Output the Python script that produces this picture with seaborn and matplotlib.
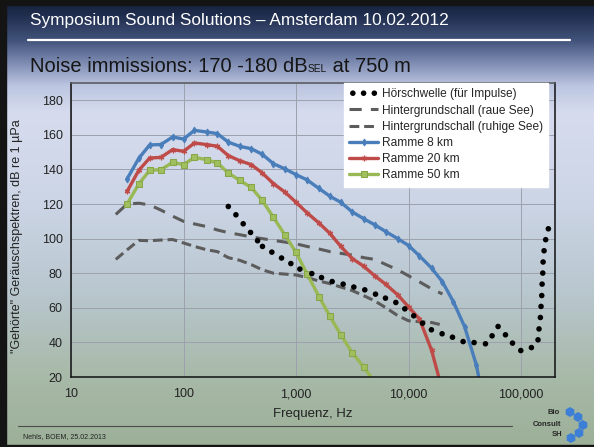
import matplotlib
matplotlib.use("Agg")
import matplotlib.pyplot as plt
import matplotlib.font_manager as fm
from matplotlib.colors import LinearSegmentedColormap
from matplotlib.patches import Rectangle, RegularPolygon
from matplotlib.ticker import FixedLocator, FuncFormatter, LogLocator, NullFormatter
import numpy as np
import seaborn as sns

# --- data --------------------------------------------------------------------
freq_ramme = [31.5, 40, 50, 63, 80, 100, 125, 160, 200, 250, 315, 400, 500, 630, 800,
              1000, 1250, 1600, 2000, 2500, 3150, 4000, 5000, 6300, 8000, 10000,
              12500, 16000, 20000, 25000, 31500, 40000, 50000]
ramme_8km = [134.5, 146.4, 154.2, 154.4, 158.8, 157.6, 162.6, 161.7, 160.7, 155.8, 153.4,
             152.0, 148.8, 143.3, 140.3, 137.0, 134.0, 129.0, 124.5, 121.0, 115.5, 111.5,
             108.0, 104.0, 100.0, 96.0, 90.0, 83.0, 75.0, 63.5, 49.0, 27.0, -5.0]
ramme_20km = [127.3, 139.5, 146.6, 147.0, 151.5, 150.5, 155.3, 154.4, 153.4, 148.0, 145.1,
              142.8, 138.0, 131.8, 126.8, 121.0, 115.0, 109.0, 103.0, 95.5, 88.5, 84.0,
              78.5, 73.5, 67.5, 60.5, 53.5, 35.5, 12.0]
ramme_50km = [120.0, 131.6, 139.5, 139.9, 144.1, 142.8, 147.0, 145.7, 143.7, 138.0, 133.7,
              129.6, 122.1, 112.3, 101.9, 92.0, 79.7, 66.5, 55.0, 44.4, 34.1, 25.7, 17.0]

freq_bg = [25, 31.5, 40, 50, 63, 80, 100, 125, 160, 200, 250, 315, 400, 500, 630, 800,
           1000, 1250, 1600, 2000, 2500, 3150, 4000, 5000, 6300, 8000, 10000, 12500,
           16000, 20000]
raue_see = [114, 120, 120.5, 119.5, 116.5, 113, 110, 108.5, 107, 105, 103.5, 102.3, 101,
            100, 99, 98, 97, 95.5, 94, 92.5, 91.5, 90.5, 89, 88, 85, 82, 78.5, 75, 71, 68]
ruhige_see = [88, 93.5, 99, 98.8, 99.2, 99.5, 97.5, 95.5, 93.6, 92.5, 89, 87.5, 85, 82,
              80, 79.5, 79, 77.5, 75.5, 74, 72, 70, 67, 64, 60, 55.5, 52.5, 52, 51.5, 50]

freq_hs = [250, 292, 339, 394, 455, 503, 609, 743, 899, 1081, 1380, 1683, 2093, 2620,
           3260, 4080, 5080, 6230, 7700, 9250, 11100, 13300, 15950, 19850, 24550, 30500,
           38200, 48200, 55200, 62400, 72600, 83800, 99300, 123400, 141300, 144200,
           148300, 150300, 152500, 153600, 155700, 156800, 159900, 165300, 174600]
hoerschwelle = [118.6, 113.8, 108.6, 103.6, 98.8, 95.5, 92.2, 88.8, 85.6, 82.4, 79.8,
                77.5, 75.2, 73.7, 72.0, 70.4, 67.9, 65.6, 63.1, 59.4, 55.4, 51.1, 47.3,
                45.0, 43.0, 40.5, 39.9, 39.2, 43.8, 49.2, 44.4, 39.6, 35.3, 37.0, 41.5,
                47.8, 54.4, 60.8, 67.1, 73.7, 80.1, 86.5, 93.0, 99.4, 105.7]

x_ticks = [10, 100, 1000, 10000, 100000]
y_ticks = [20, 40, 60, 80, 100, 120, 140, 160, 180]

legend_order = ["Hörschwelle (für Impulse)", "Hintergrundschall (raue See)",
                "Hintergrundschall (ruhige See)", "Ramme 8 km", "Ramme 20 km",
                "Ramme 50 km"]

# --- style -------------------------------------------------------------------
W, H = 594, 447
sns.set_style("white")
plt.rcParams["font.family"] = ["Liberation Sans", "DejaVu Sans"]

installed = {f.name for f in fm.fontManager.ttflist}
if "Liberation Sans Narrow" in installed:
    title_family, title_size, sub_size = ["Liberation Sans Narrow", "DejaVu Sans"], 15, 18
else:
    title_family, title_size, sub_size = ["Liberation Sans", "DejaVu Sans"], 12.4, 14.5

fig = plt.figure(figsize=(W / 100, H / 100), dpi=100)

# slide background (pixel coordinates)
bg = fig.add_axes([0, 0, 1, 1], zorder=-10)
bg.set_xlim(0, W)
bg.set_ylim(H, 0)
bg.axis("off")
slide = LinearSegmentedColormap.from_list("slide", [
    (0.00, "#17223c"), (0.03, "#1e2c4c"), (0.09, "#43547c"), (0.14, "#7f8db3"),
    (0.19, "#bcc5e0"), (0.25, "#d6dcee"), (0.45, "#ccd5e6"), (0.65, "#b9c7cf"),
    (0.85, "#a7b9a7"), (1.00, "#9cb098")])
bg.imshow(np.linspace(0, 1, 256)[:, None], cmap=slide, extent=[0, W, H, 0], aspect="auto")
bg.add_patch(Rectangle((0, 0), 6, H, color="#141414"))
bg.add_patch(Rectangle((0, 0), W, 5, color="#141414"))
bg.add_patch(Rectangle((0, H - 2), W, 2, color="#141414"))

# title band
bg.text(30, 21, "Symposium Sound Solutions \u2013 Amsterdam 10.02.2012", color="white",
        fontsize=title_size, family=title_family, va="center", ha="left")
bg.plot([28, 570], [40, 40], color="white", lw=1.6)

sub1 = bg.text(30, 71.5, "Noise immissions: 170 -180 dB", color="#151515",
               fontsize=sub_size, family=title_family, va="baseline")
fig.canvas.draw()
x_end = bg.transData.inverted().transform(sub1.get_window_extent().p1)[0]
sub2 = bg.text(x_end, 71.5, "SEL", color="#151515", fontsize=sub_size * 0.5,
               family=title_family, va="baseline")
fig.canvas.draw()
x_end = bg.transData.inverted().transform(sub2.get_window_extent().p1)[0]
bg.text(x_end, 71.5, " at 750 m", color="#151515", fontsize=sub_size,
        family=title_family, va="baseline")

# footer
bg.plot([18, 512], [426, 426], color="#4a4f4a", lw=0.8)
bg.text(23, 437, "Nehls, BOEM, 25.02.2013", fontsize=5, color="#222222", va="center")
for cx, cy in [(570, 412), (578, 417), (583, 425), (579, 433), (571, 438)]:
    bg.add_patch(RegularPolygon((cx, cy), 6, radius=4.2, color="#3d7fd6"))
bg.text(554, 413, "Bio", fontsize=5.5, weight="bold", ha="center", va="center")
bg.text(547, 424, "Consult", fontsize=5.5, weight="bold", ha="center", va="center")
bg.text(557, 435, "SH", fontsize=5.5, weight="bold", ha="center", va="center")

# --- chart -------------------------------------------------------------------
ax = fig.add_axes([71 / W, 1 - 377 / H, (555 - 71) / W, (377 - 83) / H])
ax.patch.set_alpha(0)
ax.set_xscale("log")

gray = "#5c5c5c"
sns.lineplot(x=freq_bg, y=raue_see, ax=ax, color=gray, lw=2.2,
             linestyle=(0, (4, 3)), label=legend_order[1])
sns.lineplot(x=freq_bg, y=ruhige_see, ax=ax, color=gray, lw=2.2,
             linestyle=(0, (3.2, 1.6)), label=legend_order[2])
sns.scatterplot(x=freq_hs, y=hoerschwelle, ax=ax, color="black", s=16,
                edgecolor="none", label=legend_order[0], zorder=4)
sns.lineplot(x=freq_ramme, y=ramme_8km, ax=ax, color="#4a7ebb", lw=2.4,
             marker="d", ms=3.5, mec="#4a7ebb", mfc="#4a7ebb", label=legend_order[3])
sns.lineplot(x=freq_ramme[:len(ramme_20km)], y=ramme_20km, ax=ax, color="#be4b48",
             lw=2.4, marker=(6, 2, 0), ms=4, mec="#be4b48", mew=0.9,
             label=legend_order[4])
sns.lineplot(x=freq_ramme[:len(ramme_50km)], y=ramme_50km, ax=ax, color="#98b954",
             lw=2.4, marker="s", ms=4.2, mec="#86a647", mfc="#a0c060",
             label=legend_order[5])

ax.set_xlim(10, 200000)
ax.set_ylim(20, 190)
ax.xaxis.set_major_locator(FixedLocator(x_ticks))
ax.xaxis.set_major_formatter(FuncFormatter(lambda v, p: f"{v:,.0f}"))
ax.xaxis.set_minor_locator(LogLocator(base=10, subs=np.arange(2, 10)))
ax.xaxis.set_minor_formatter(NullFormatter())
ax.set_yticks(y_ticks)
ax.grid(True, which="major", color="#9ba1ad", lw=0.7)
ax.tick_params(axis="x", which="both", direction="in", labelsize=9, pad=8)
ax.tick_params(axis="x", which="major", length=0)
ax.tick_params(axis="x", which="minor", length=3, color="#444444")
ax.tick_params(axis="y", direction="out", length=3, labelsize=9, pad=3)
ax.tick_params(axis="both", labelcolor="#222222")
for s in ax.spines.values():
    s.set_color("#111111")
    s.set_linewidth(1.1)
ax.spines["top"].set_color("#555555")

ax.set_xlabel("Frequenz, Hz", fontsize=9.5, color="#222222")
ax.xaxis.set_label_coords(0.5, -0.105)
ax.set_ylabel('"Gehörte" Geräuschspektren, dB re 1 µPa', fontsize=9, color="#222222")
ax.yaxis.set_label_coords((23 - 71) / 484, 0.48)

handles, labels = ax.get_legend_handles_labels()
lookup = dict(zip(labels, handles))
ax.legend([lookup[k] for k in legend_order], legend_order, loc="upper right",
          bbox_to_anchor=((548 - 71) / 484, 1.0), fontsize=8.6, frameon=True,
          fancybox=False, framealpha=1, facecolor="white", edgecolor="white",
          borderaxespad=0, scatterpoints=3, scatteryoffsets=[0.5], handlelength=2.4,
          handletextpad=0.3, borderpad=0.45, labelspacing=0.35)

fig.savefig("out.png", dpi=100)
